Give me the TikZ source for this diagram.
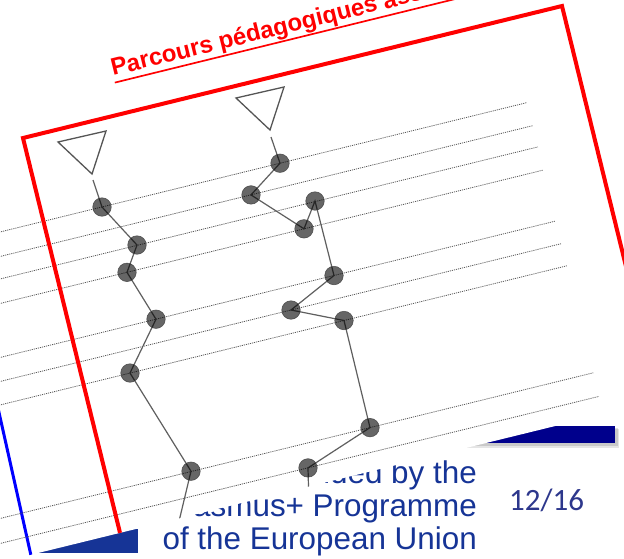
\documentclass[tikz,border=0pt]{standalone}
\usepackage{fontspec}
\setmainfont{Liberation Sans}
\newfontfamily\pagefont{Carlito}
\usetikzlibrary{calc}

\pgfdeclarelayer{base}
\pgfdeclarelayer{links}
\pgfsetlayers{base,links,main}

\definecolor{framered}{RGB}{255,0,0}
\definecolor{frameblue}{RGB}{0,0,255}
\definecolor{guidegray}{RGB}{90,90,90}
\definecolor{linkgray}{RGB}{95,95,95}
\definecolor{trigray}{RGB}{85,85,85}
\definecolor{eublue}{RGB}{22,52,150}
\definecolor{barnavy}{RGB}{0,0,140}
\definecolor{pagenum}{RGB}{45,55,140}

% underlined heading with the rule crossing the descenders
\newcommand\titleline[1]{\setbox0=\hbox{#1}\rlap{\rule[-0.32em]{\wd0}{0.07em}}\box0}

\begin{document}
\begin{tikzpicture}[x=1pt,y=-1pt,
  guide/.style={draw=guidegray, line width=0.8pt, dash pattern=on 1.1pt off 1pt},
  link/.style={draw=linkgray, line width=1.2pt},
  dotnode/.style={circle, minimum size=18.5pt, inner sep=0pt, fill=black, fill opacity=0.6,
                  draw=black!75, draw opacity=0.8, line width=0.6pt},
  tri/.style={draw=trigray, line width=1.3pt, line join=miter},
  redframe/.style={draw=framered, line width=4pt, line join=miter},
  footer/.style={anchor=base east, inner sep=0pt, text=eublue,
                 font=\fontsize{31.4}{31.4}\selectfont},
]
\useasboundingbox (0,0) rectangle (624,558);
\clip (0,0) rectangle (624,558);

% lower edge of the tilted sheet
\def\sheetedge{(-10,564.8) -- (640,405.2) -- (640,-10) -- (-10,-10) -- cycle}

\begin{pgfonlayer}{base}
  % footer band of the slide
  \fill[eublue] (0,529) rectangle (138,553);
  \fill[black, opacity=0.12] (442,428) rectangle (618,446);
  \fill[black, opacity=0.10] (443,429) rectangle (619,447.5);
  \fill[barnavy] (440,426) rectangle (615,443);
  \node[footer] (fund1) at (477,483) {Co-funded by the};
  \node[footer] (fund2) at (477,516) {Erasmus+ Programme};
  \node[footer] (fund3) at (477,549) {of the European Union};
  \node[anchor=base west, inner sep=0pt, text=pagenum,
        font=\pagefont\fontsize{31}{31}\selectfont] (page) at (509,510) {12/16};

  % the tilted sheet
  \fill[white] \sheetedge;
  \begin{scope}
    \clip \sheetedge;
    \draw[draw=frameblue, line width=3pt] (-2,408) -- (32,560);
    \foreach \ya/\xb/\yb in {233.2/526.9/102.6, 257.7/532.6/125.7, 280.2/537.9/146.9,
                             304.7/543.6/170.0, 358.7/555.8/221.0, 382.7/561.5/243.6,
                             406.2/566.8/265.8, 519.7/593.2/372.8, 544.7/598.9/396.4}
      \draw[guide] (-5,\ya) -- (\xb,\yb);
    \draw[redframe] (131.6,580) -- (23,138) -- (562,6) -- (658.8,400);
    \node[rotate=13.8, anchor=base west, inner sep=0pt, text=framered,
          font=\fontsize{24}{28}\selectfont\bfseries] (title) at (113,76)
          {\titleline{Parcours pédagogiques associés}};
    % entry markers
    \draw[tri] (58,142) -- (106,131) -- (92,174) -- cycle;
    \draw[tri] (236,98) -- (284,87) -- (270,130) -- cycle;
  \end{scope}
\end{pgfonlayer}

% stations of the first route
\node[dotnode] (a1) at (102,207.0) {};
\node[dotnode] (a2) at (137,245.0) {};
\node[dotnode] (a3) at (127,272.3) {};
\node[dotnode] (a4) at (156,319.2) {};
\node[dotnode] (a5) at (130,373.0) {};
\node[dotnode] (a6) at (191,471.2) {};
% stations of the second route
\node[dotnode] (b1) at (280,163.2) {};
\node[dotnode] (b2) at (251,194.9) {};
\node[dotnode] (b3) at (304,228.8) {};
\node[dotnode] (b4) at (315,201.0) {};
\node[dotnode] (b5) at (334,275.5) {};
\node[dotnode] (b6) at (291,310.0) {};
\node[dotnode] (b7) at (344,320.5) {};
\node[dotnode] (b8) at (370,427.6) {};
\node[dotnode] (b9) at (308,467.9) {};

\coordinate (s1) at (93,180);
\coordinate (s2) at (271,137);
\coordinate (aend) at (175,538);
\coordinate (bend) at (309,505);

\begin{pgfonlayer}{links}
  \begin{scope}
    \clip \sheetedge;
    \draw[link] (s1) -- (a1.center) -- (a2.center) -- (a3.center) -- (a4.center)
                -- (a5.center) -- (a6.center) -- (aend);
    \draw[link] (s2) -- (b1.center) -- (b2.center) -- (b3.center) -- (b4.center)
                -- (b5.center) -- (b6.center) -- (b7.center) -- (b8.center)
                -- (b9.center) -- (bend);
  \end{scope}
\end{pgfonlayer}
\end{tikzpicture}
\end{document}
